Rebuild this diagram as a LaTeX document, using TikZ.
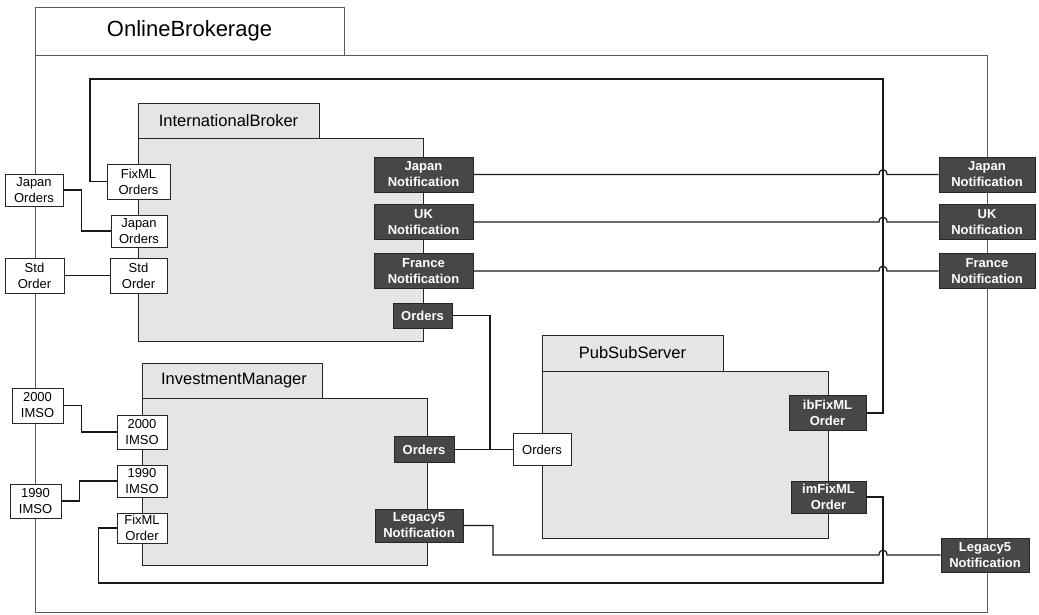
\documentclass[tikz,border=0pt]{standalone}
\usepackage{fontspec}
\setmainfont{Liberation Sans}
\begin{document}
\begin{tikzpicture}[x=1pt,y=-1pt,
  frame/.style={draw=black!65, line width=0.9pt},
  pkg/.style={draw=black!85, line width=0.9pt, fill=black!10},
  conn/.style={draw=black!90, line width=1.2pt},
  wport/.style={draw=black!85, line width=0.8pt, fill=white, inner sep=0pt,
    align=center, font=\fontsize{13}{16}\selectfont},
  dport/.style={draw=black!85, line width=0.8pt, fill=black!72, text=white,
    inner sep=0pt, align=center, font=\fontsize{13}{16}\selectfont\bfseries},
  title/.style={font=\fontsize{16.5}{18}\selectfont, inner sep=0pt}]

% canvas
\fill[white] (0,0) rectangle (1039,615);
\useasboundingbox (0,0) rectangle (1039,615);

% OnlineBrokerage frame
\draw[frame] (35,7) rectangle (344,55);
\draw[frame] (35,55) rectangle (987,612);
\node[font=\fontsize{22}{24}\selectfont, inner sep=0pt] (obTitle) at (189.5,31) {OnlineBrokerage};

% InternationalBroker package
\draw[pkg] (138,103) rectangle (319,138);
\draw[pkg] (138,138) rectangle (423,341);
\node[title] (ibTitle) at (228.5,121) {InternationalBroker};

% InvestmentManager package
\draw[pkg] (142,363) rectangle (322,398);
\draw[pkg] (142,398) rectangle (427,565);
\node[title] (imTitle) at (234,381) {InvestmentManager};

% PubSubServer package
\draw[pkg] (542,335) rectangle (723,371);
\draw[pkg] (542,371) rectangle (828,538);
\node[title] (psTitle) at (632.5,353) {PubSubServer};

% external ports on the left edge
\node[wport, minimum width=58, minimum height=32] (extJO) at (34,190) {Japan\\Orders};
\node[wport, minimum width=59, minimum height=35] (extSO) at (34.5,275.5) {Std\\Order};
\node[wport, minimum width=51, minimum height=35] (ext2000) at (37.5,405.5) {2000\\IMSO};
\node[wport, minimum width=51, minimum height=34] (ext1990) at (35.5,501) {1990\\IMSO};

% InternationalBroker ports
\node[wport, minimum width=63, minimum height=35] (fixIB) at (138.5,181.5) {FixML\\Orders};
\node[wport, minimum width=56, minimum height=32] (inJO) at (139,231) {Japan\\Orders};
\node[wport, minimum width=57, minimum height=35] (inSO) at (138.5,275.5) {Std\\Order};
\node[dport, minimum width=99, minimum height=35] (jnIB) at (423.5,174.5) {Japan\\Notification};
\node[dport, minimum width=99, minimum height=35] (ukIB) at (423.5,222) {UK\\Notification};
\node[dport, minimum width=99, minimum height=35] (frIB) at (423.5,271) {France\\Notification};
\node[dport, minimum width=59, minimum height=25] (ordIB) at (422.5,315.5) {Orders};

% InvestmentManager ports
\node[wport, minimum width=50, minimum height=34] (in2000) at (142,432) {2000\\IMSO};
\node[wport, minimum width=50, minimum height=32] (in1990) at (142,481) {1990\\IMSO};
\node[wport, minimum width=50, minimum height=30] (fixIM) at (142,528) {FixML\\Order};
\node[dport, minimum width=60, minimum height=26] (ordIM) at (424,449.5) {Orders};
\node[dport, minimum width=88, minimum height=33] (legIM) at (419,525.5) {Legacy5\\Notification};

% PubSubServer ports
\node[wport, minimum width=58, minimum height=32] (ordPS) at (542,449.5) {Orders};
\node[dport, minimum width=77, minimum height=35] (ibFix) at (827.5,413) {ibFixML\\Order};
\node[dport, minimum width=75, minimum height=32] (imFix) at (828.5,497) {imFixML\\Order};

% external ports on the right edge
\node[dport, minimum width=96, minimum height=35] (jnExt) at (987,174.5) {Japan\\Notification};
\node[dport, minimum width=96, minimum height=35] (ukExt) at (987,222) {UK\\Notification};
\node[dport, minimum width=96, minimum height=35] (frExt) at (987,271) {France\\Notification};
\node[dport, minimum width=88, minimum height=34] (legExt) at (985,555) {Legacy5\\Notification};

% routing points
\coordinate (loopA) at (90,79);
\coordinate (loopB) at (883,79);
\coordinate (ordBus) at (490,449.5);
\coordinate (legBend) at (493,555);
\coordinate (botR) at (883,583);

% connectors (the notification wires hop over the loop at x = 883)
\draw[conn] (fixIB.west) -| (loopA) -- (loopB) |- (ibFix.east);
\draw[conn] (extJO.east) -- ++(18,0) |- (inJO.west);
\draw[conn] (extSO.east) -- (inSO.west);
\draw[conn] (ext2000.east) -- ++(18,0) |- (in2000.west);
\draw[conn] (ext1990.east) -- ++(18,0) |- (in1990.west);
\draw[conn] (fixIM.west) -- ++(-18,0) |- (botR) |- (imFix.east);
\draw[conn] (ordIB.east) -| (ordBus) -- (ordPS.west);
\draw[conn] (ordIM.east) -- (ordBus);
\draw[conn] (jnIB.east) -- (879,174.5) .. controls (879,168) and (887,168) .. (887,174.5) -- (jnExt.west);
\draw[conn] (ukIB.east) -- (879,222) .. controls (879,215.5) and (887,215.5) .. (887,222) -- (ukExt.west);
\draw[conn] (frIB.east) -- (879,271) .. controls (879,264.5) and (887,264.5) .. (887,271) -- (frExt.west);
\draw[conn] (legIM.east) -| (legBend) -- (879,555) .. controls (879,548.5) and (887,548.5) .. (887,555) -- (legExt.west);
\end{tikzpicture}
\end{document}
